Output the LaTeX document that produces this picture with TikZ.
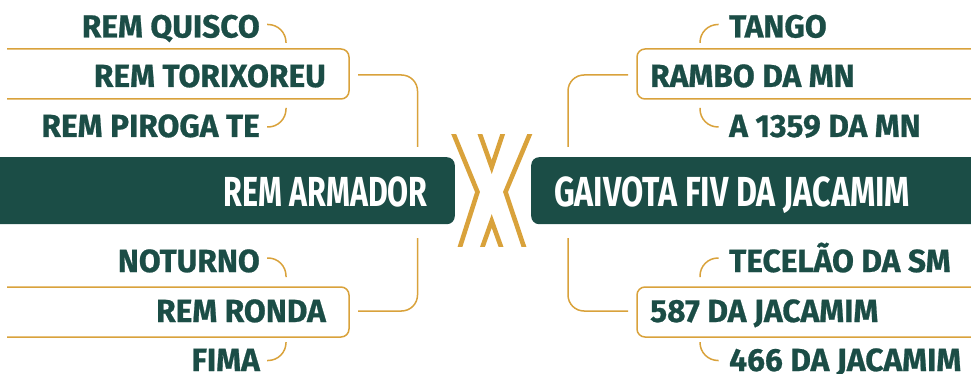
\documentclass[tikz,border=0pt]{standalone}
\usepackage{fontspec}
\usetikzlibrary{calc}
\newfontfamily\lblfont{Fira Sans}[FakeStretch=0.99, BoldFeatures={FakeBold=0.7}]
\newfontfamily\barfont{Fira Sans}[FakeStretch=0.725]
\newfontfamily\barfontw{Fira Sans}[FakeStretch=0.767]
\definecolor{dg}{HTML}{1B4D46}
\definecolor{gold}{HTML}{D9A23B}
\begin{document}
\begin{tikzpicture}[x=1pt,y=-1pt,
  lbl/.style={inner sep=0pt, font=\lblfont\bfseries\fontsize{32}{32}\selectfont, text=dg},
  bartxt/.style={inner sep=0pt, font=\barfont\bfseries\fontsize{42}{42}\selectfont, text=white},
  bartxtw/.style={inner sep=0pt, font=\barfontw\bfseries\fontsize{42}{42}\selectfont, text=white},
  barbox/.style={fill=dg, rounded corners=8pt, inner sep=0pt, minimum height=67pt, minimum width=480pt},
  boxline/.style={draw=gold, line width=1.5pt, rounded corners=8pt},
  hook/.style={draw=gold, line width=1.5pt, rounded corners=18pt},
  link/.style={draw=gold, line width=1.5pt, rounded corners=16pt},
  xstroke/.style={draw=gold, line width=4.6pt, line join=miter},
  ]
\useasboundingbox (0,0) rectangle (971,374);
% main bars
\node[barbox, anchor=north east] (lbar) at (455,157) {};
\node[barbox, anchor=north west] (rbar) at (531,157) {};
\node[bartxt, anchor=base east] (armador) at (428,206) {REM ARMADOR};
\node[bartxtw, anchor=base west] (gaivota) at (554,206) {GAIVOTA FIV DA JACAMIM};
% X emblem
\begin{scope}
\clip (440,135) rectangle (545,246);
\draw[xstroke] (452,130) -- (477.5,192) -- (459,250);
\draw[xstroke] (531.5,130) -- (505.5,192) -- (525,250);
\draw[xstroke] (478.5,130) -- (491.7,167) -- (504,130);
\draw[xstroke] (481,251) -- (491.7,221) -- (502.5,251);
\end{scope}
% left labels
\node[lbl, anchor=base east] (quisco) at (260,37.5) {REM QUISCO};
\node[lbl, anchor=base east] (torix) at (326,87) {REM TORIXOREU};
\node[lbl, anchor=base east] (piroga) at (260,137) {REM PIROGA TE};
\node[lbl, anchor=base east] (noturno) at (260,272) {NOTURNO};
\node[lbl, anchor=base east] (ronda) at (326,322) {REM RONDA};
\node[lbl, anchor=base east] (fima) at (260,371) {FIMA};
% right labels
\node[lbl, anchor=base west] (tango) at (729,37.5) {TANGO};
\node[lbl, anchor=base west] (rambo) at (650,87) {RAMBO DA MN};
\node[lbl, anchor=base west] (a1359) at (729,137) {A 1359 DA MN};
\node[lbl, anchor=base west] (tecelao) at (729,272) {TECELÃO DA SM};
\node[lbl, anchor=base west] (j587) at (650,322) {587 DA JACAMIM};
\node[lbl, anchor=base west] (j466) at (729,371) {466 DA JACAMIM};
% boxes (open on the outer side)
\draw[boxline] (7,49) -- (349,49) -- (349,99) -- (7,99);
\draw[boxline] (985,49) -- (637,49) -- (637,99) -- (985,99);
\draw[boxline] (7,287) -- (349,287) -- (349,337) -- (7,337);
\draw[boxline] (985,287) -- (637,287) -- (637,337) -- (985,337);
% hooks
\draw[hook] (267,24.5) -| (286,43);
\draw[hook] (286,108) |- (267,127);
\draw[hook] (267,258) -| (286,277);
\draw[hook] (286,342) |- (267,360.5);
\draw[hook] (700,43) |- (718.5,24.5);
\draw[hook] (700,108) |- (718.5,127);
\draw[hook] (700,277) |- (718.5,258);
\draw[hook] (700,342) |- (718.5,360.5);
% main connectors
\coordinate (ltop) at (417.5,147);
\coordinate (lbot) at (417.5,238);
\coordinate (rtop) at (568,147);
\coordinate (rbot) at (568,238);
\draw[link] (358,75) -| (ltop);
\draw[link] (lbot) |- (358,311);
\draw[link] (628,75) -| (rtop);
\draw[link] (rbot) |- (628,311);
\end{tikzpicture}
\end{document}
